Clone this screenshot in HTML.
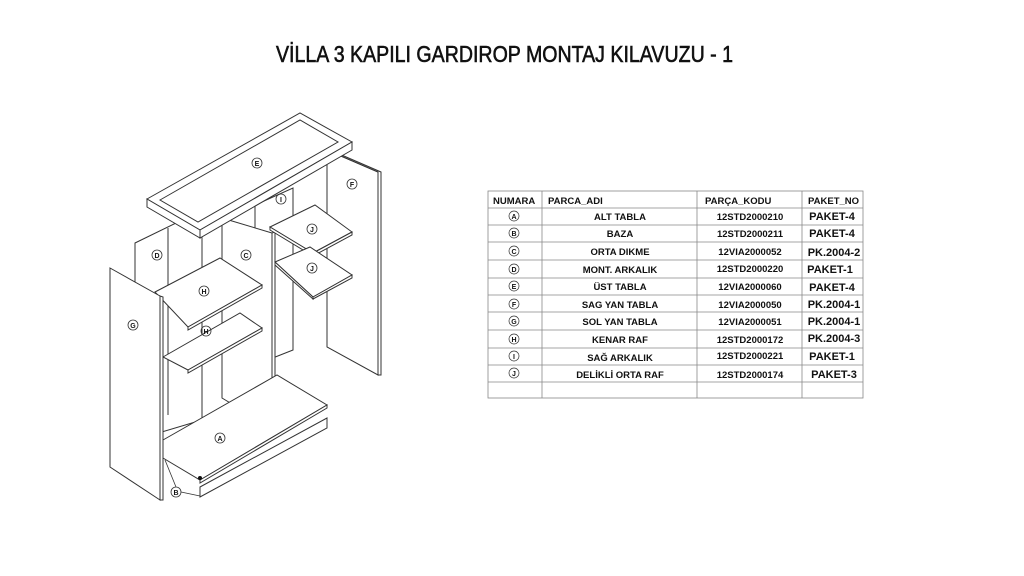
<!DOCTYPE html>
<html><head><meta charset="utf-8"><style>
html,body{margin:0;padding:0;background:#fff;}
svg{display:block;}
text{font-family:"Liberation Sans",sans-serif;fill:#111;}
</style></head><body>
<svg width="1024" height="576" viewBox="0 0 1024 576" xmlns="http://www.w3.org/2000/svg">
<text x="276" y="62" font-size="23" textLength="457" lengthAdjust="spacingAndGlyphs" stroke="#111" stroke-width="0.6">VİLLA 3 KAPILI GARDIROP MONTAJ KILAVUZU - 1</text>

<g fill="#fff" stroke="#333" stroke-width="1">
<polygon points="327,150 378,172 378,375 327,347"/>
<polygon points="330,150 381,172 381,375 378,375 378,172 327,150"/>
<polygon points="255,205 293,188 293,350 255,365"/>
<polygon points="135,243 178,222 202,230 202,420 135,440"/>
<line x1="168" y1="228" x2="168" y2="415"/>
<polygon points="222,218 272,233 272,428 222,398"/>
<polygon points="272,233 275,232 275,428 272,428"/>
<polygon points="270,227 315,205 352,232 313,253"/>
<polygon points="270,227 313,253 313,256 270,230"/>
<polygon points="313,253 352,232 352,235 313,256"/>
<polygon points="275,262 310,247 352,275 313,297"/>
<polygon points="275,262 313,297 313,299 275,265"/>
<polygon points="313,297 352,275 352,278 313,299"/>
<polygon points="163,440 277,375 327,405 200,480 163,458"/>
<polygon points="200,480 327,405 327,408 200,483"/>
<polygon points="200,487 327,418 327,428 200,497"/>
<polygon points="163,357 240,313 262,328 188,370"/>
<polygon points="188,370 262,328 262,331 188,373"/>
<polygon points="155,292 220,258 262,285 188,327"/>
<polygon points="188,327 262,285 262,288 188,330"/>
<polygon points="110,268 160,296 160,500 110,467"/>
<polygon points="160,296 163,297 163,500 160,500"/>
<polygon points="147,199 300,113 352,142 200,230"/>
<polygon points="147,199 200,230 200,238 147,207"/>
<polygon points="200,230 352,142 352,150 200,238"/>
<polygon points="160,200 300,120 338,142 198,222"/>
</g>
<g fill="none" stroke="#333" stroke-width="0.8">
<circle cx="257" cy="163" r="5"/><circle cx="352" cy="184" r="5"/><circle cx="281" cy="199" r="5"/>
<circle cx="312" cy="229" r="5"/><circle cx="312" cy="268" r="5"/><circle cx="157" cy="255" r="5"/>
<circle cx="246" cy="255" r="5"/><circle cx="204" cy="291" r="5"/><circle cx="206" cy="331" r="5"/>
<circle cx="133" cy="325" r="5"/><circle cx="220" cy="438" r="5"/><circle cx="176" cy="492" r="5"/>
</g>
<g font-size="7" font-weight="bold" text-anchor="middle">
<text x="257" y="166">E</text><text x="352" y="187">F</text><text x="281" y="202">I</text>
<text x="312" y="232">J</text><text x="312" y="271">J</text><text x="157" y="258">D</text>
<text x="246" y="258">C</text><text x="204" y="294">H</text><text x="206" y="334">H</text>
<text x="133" y="328">G</text><text x="220" y="441">A</text><text x="176" y="495">B</text>
</g>
<line x1="181" y1="492" x2="200" y2="496" stroke="#333" stroke-width="0.8"/>
<line x1="176" y1="487" x2="165" y2="460" stroke="#333" stroke-width="0.8"/>
<circle cx="200" cy="478" r="2" fill="#111"/>

<g stroke="#888" stroke-width="0.8" fill="none">
<rect x="488" y="191" width="375" height="207"/>
<line x1="542" y1="191" x2="542" y2="398"/><line x1="697" y1="191" x2="697" y2="398"/><line x1="802" y1="191" x2="802" y2="398"/>
<line x1="488" y1="208" x2="863" y2="208"/><line x1="488" y1="225" x2="863" y2="225"/><line x1="488" y1="242" x2="863" y2="242"/>
<line x1="488" y1="260" x2="863" y2="260"/><line x1="488" y1="278" x2="863" y2="278"/><line x1="488" y1="295" x2="863" y2="295"/>
<line x1="488" y1="312" x2="863" y2="312"/><line x1="488" y1="330" x2="863" y2="330"/><line x1="488" y1="348" x2="863" y2="348"/>
<line x1="488" y1="365" x2="863" y2="365"/><line x1="488" y1="382" x2="863" y2="382"/>
</g>
<g font-size="9.5" font-weight="bold">
<text x="493" y="204">NUMARA</text><text x="548" y="204">PARCA_ADI</text><text x="705" y="204">PARÇA_KODU</text><text x="808" y="204">PAKET_NO</text>
</g>
<g fill="none" stroke="#333" stroke-width="0.7">
<circle cx="514" cy="216" r="5"/><circle cx="514" cy="233" r="5"/><circle cx="514" cy="251" r="5"/><circle cx="514" cy="269" r="5"/><circle cx="514" cy="286" r="5"/><circle cx="514" cy="304" r="5"/><circle cx="514" cy="321" r="5"/><circle cx="514" cy="339" r="5"/><circle cx="514" cy="356" r="5"/><circle cx="514" cy="373" r="5"/>
</g>
<g font-size="7" font-weight="bold" text-anchor="middle">
<text x="514" y="219">A</text><text x="514" y="236">B</text><text x="514" y="254">C</text><text x="514" y="272">D</text><text x="514" y="289">E</text><text x="514" y="307">F</text><text x="514" y="324">G</text><text x="514" y="342">H</text><text x="514" y="359">I</text><text x="514" y="376">J</text>
</g>
<g font-size="9.5" font-weight="bold" text-anchor="middle">
<text x="620" y="220">ALT TABLA</text><text x="620" y="237">BAZA</text><text x="620" y="255">ORTA DIKME</text><text x="620" y="273">MONT. ARKALIK</text><text x="620" y="290">ÜST TABLA</text><text x="620" y="308">SAG YAN TABLA</text><text x="620" y="325">SOL YAN TABLA</text><text x="620" y="343">KENAR RAF</text><text x="620" y="361">SAĞ ARKALIK</text><text x="620" y="378">DELİKLİ ORTA RAF</text>
<text x="750" y="220">12STD2000210</text><text x="750" y="237">12STD2000211</text><text x="750" y="255">12VIA2000052</text><text x="750" y="272">12STD2000220</text><text x="750" y="290">12VIA2000060</text><text x="750" y="308">12VIA2000050</text><text x="750" y="325">12VIA2000051</text><text x="750" y="343">12STD2000172</text><text x="750" y="359">12STD2000221</text><text x="750" y="378">12STD2000174</text>
</g>
<g font-size="11" font-weight="bold" text-anchor="middle">
<text x="832" y="220">PAKET-4</text><text x="832" y="237">PAKET-4</text><text x="834" y="256">PK.2004-2</text><text x="830" y="273">PAKET-1</text><text x="832" y="291">PAKET-4</text><text x="834" y="308">PK.2004-1</text><text x="834" y="325">PK.2004-1</text><text x="834" y="342">PK.2004-3</text><text x="832" y="360">PAKET-1</text><text x="834" y="378">PAKET-3</text>
</g>
</svg>
</body></html>
